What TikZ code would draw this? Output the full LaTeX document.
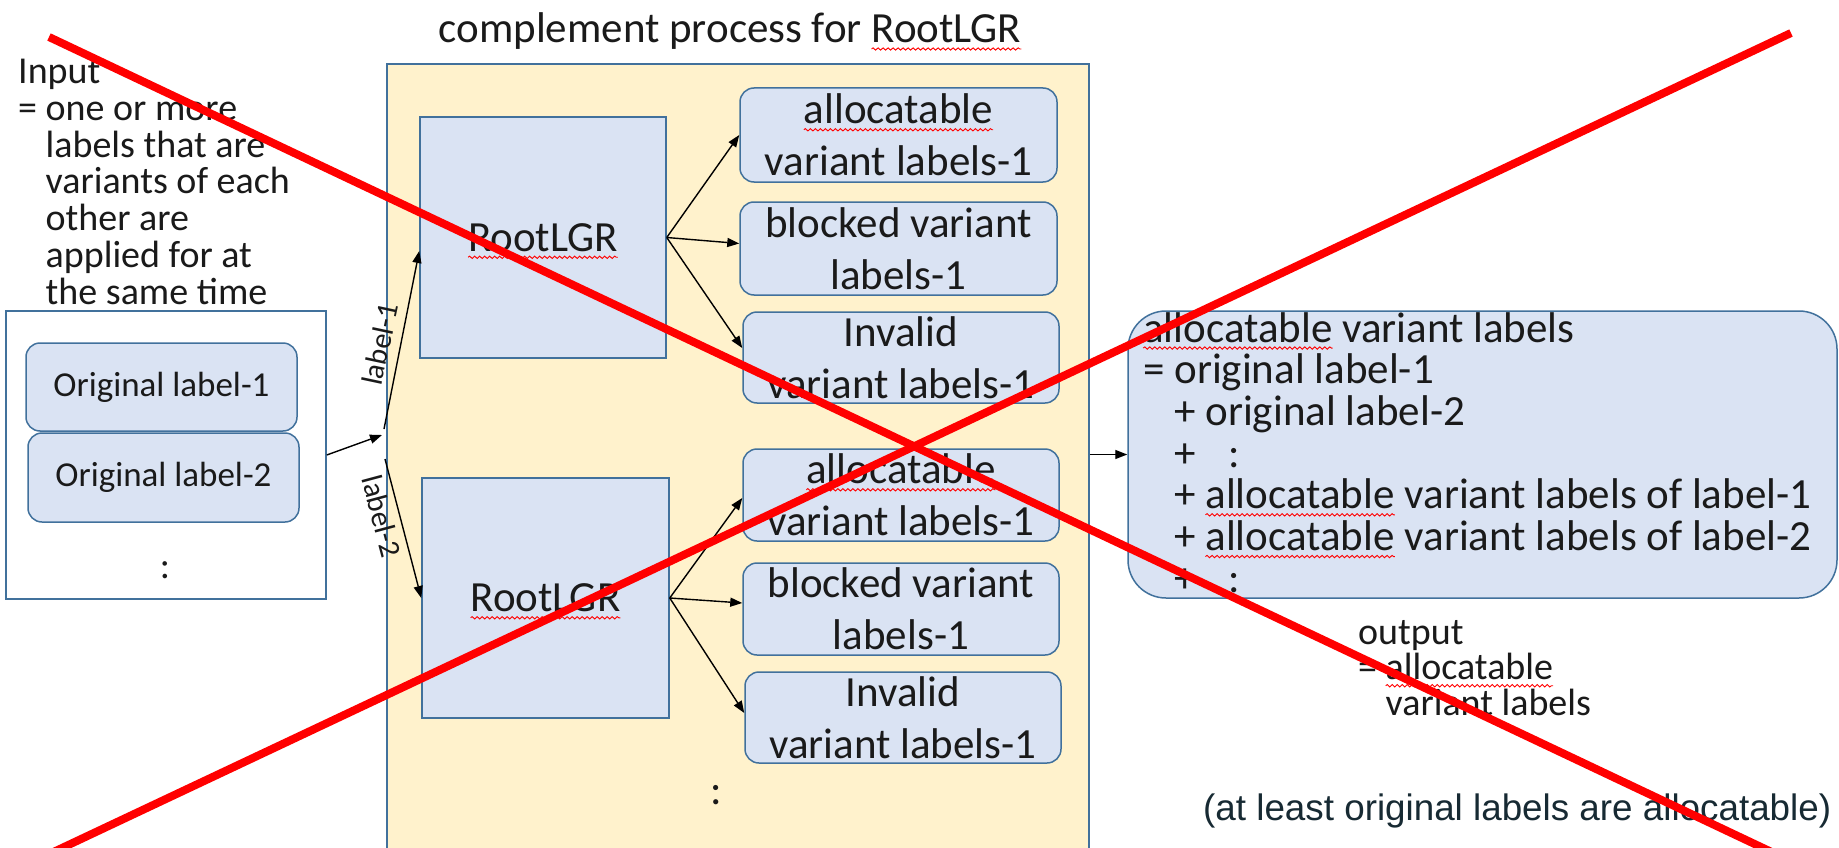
\documentclass[tikz,border=0pt]{standalone}
\usepackage{fontspec}
\setmainfont{Carlito}
\newfontfamily\arialf{Liberation Sans}
\usetikzlibrary{arrows.meta,decorations.pathmorphing,calc}
\definecolor{bord}{HTML}{41719C}
\definecolor{boxfill}{HTML}{DAE3F3}
\definecolor{yel}{HTML}{FFF2CC}
\definecolor{txt}{HTML}{1A1A1A}
\definecolor{foottxt}{HTML}{172A33}
\tikzset{
  squigline/.style={draw=red, line width=0.9pt, sharp corners, decorate,
    decoration={snake, amplitude=1.2pt, segment length=5pt}},
  sqnode/.style={inner sep=0pt, outer sep=0pt, anchor=base, draw=none, fill=none,
    minimum width=0pt, minimum height=0pt, rotate=0, sharp corners},
  lbox/.style={draw=bord, line width=1.5pt, fill=boxfill, rounded corners=14pt,
    inner sep=0pt, align=center, text=txt, font=\fontsize{43}{52}\selectfont},
  obox/.style={draw=bord, line width=1.5pt, fill=boxfill, rounded corners=14pt,
    inner sep=0pt, align=center, text=txt, font=\fontsize{35}{42}\selectfont},
  rootbox/.style={draw=bord, line width=1.5pt, fill=boxfill, inner sep=0pt,
    text=txt, font=\fontsize{43}{52}\selectfont},
  procbox/.style={draw=bord, line width=1.5pt, fill=yel, inner sep=0pt},
  inbox/.style={draw=bord, line width=1.5pt, fill=white, inner sep=0pt},
  arr/.style={-{Triangle[length=12pt,width=9pt]}, line width=1.4pt, draw=black},
  redx/.style={draw=red, line width=8pt},
  plain/.style={inner sep=0pt, text=txt},
}
\newcommand\sqw[1]{\tikz[baseline=(sqw.base)]{\node[sqnode] (sqw) {#1};%
  \draw[squigline, overlay] ([yshift=-6pt]sqw.base west) -- ([yshift=-6pt]sqw.base east);}}
\begin{document}
\begin{tikzpicture}[x=1pt,y=-1pt]
\useasboundingbox (0,0) rectangle (1839,848);
\clip (0,0) rectangle (1839,848);
\fill[white] (0,0) rectangle (1839,848);

% title and process box
\node[plain, anchor=base, font=\fontsize{43}{52}\selectfont] (title) at (730,43) {complement process for \sqw{RootLGR}};
\node[procbox, minimum width=702pt, minimum height=836pt] (proc) at (738,482) {};

% input
\node[plain, anchor=north west, align=left, font=\fontsize{38}{36.8}\selectfont] (intext) at (18,59)
  {Input\\= one or more\\\phantom{=} labels that are\\\phantom{=} variants of each\\\phantom{=} other are\\\phantom{=} applied for at\\\phantom{=} the same time};
\node[inbox, minimum width=320pt, minimum height=288pt] (inbox) at (166,455) {};
\node[obox, minimum width=271pt, minimum height=88pt] (o1) at (161.5,387) {Original label-1};
\node[obox, minimum width=271pt, minimum height=89pt] (o2) at (163.5,477.5) {Original label-2};
\node[plain, font=\fontsize{38}{40}\selectfont] (indots) at (165,570) {:};

% process contents
\node[rootbox, minimum width=246pt, minimum height=241pt] (root1) at (543,237.5) {\sqw{RootLGR}};
\node[rootbox, minimum width=247pt, minimum height=240pt] (root2) at (545.5,598) {\sqw{RootLGR}};
\node[lbox, minimum width=317pt, minimum height=94pt] (a1) at (898.5,135) {\sqw{allocatable}\\variant labels-1};
\node[lbox, minimum width=317pt, minimum height=93pt] (b1) at (898.5,248.5) {blocked variant\\labels-1};
\node[lbox, minimum width=316pt, minimum height=91pt] (i1) at (901,357.5) {Invalid\\variant labels-1};
\node[lbox, minimum width=316pt, minimum height=92pt] (a2) at (901,495) {\sqw{allocatable}\\variant labels-1};
\node[lbox, minimum width=316pt, minimum height=92pt] (b2) at (901,609) {blocked variant\\labels-1};
\node[lbox, minimum width=316pt, minimum height=91pt] (i2) at (903,717.5) {Invalid\\variant labels-1};
\node[plain, font=\fontsize{43}{48}\selectfont] (pdots) at (716,795) {:};

% output
\node[lbox, rounded corners=38pt, minimum width=709pt, minimum height=287pt] (out) at (1482.5,454.5) {};
\node[plain, anchor=north west, align=left, font=\fontsize{43}{41.7}\selectfont] (outtext) at (1143,312)
  {\sqw{allocatable} variant labels\\= original label-1\\\phantom{=} + original label-2\\\phantom{=} +\hspace{33pt}:\\\phantom{=} + \sqw{allocatable} variant labels of label-1\\\phantom{=} + \sqw{allocatable} variant labels of label-2\\\phantom{=} +\hspace{33pt}:};
\node[plain, anchor=north west, align=left, font=\fontsize{38}{35.5}\selectfont] (outlbl) at (1358,620)
  {output\\= \sqw{allocatable}\\\phantom{=} variant labels};
\node[inner sep=0pt, text=foottxt, anchor=base west, font=\arialf\fontsize{36.8}{44}\selectfont] (foot) at (1203,820)
  {(at least original labels are allocatable)};

% connectors
\coordinate (J) at (382,435);
\coordinate (J1) at (384,429);
\coordinate (J2) at (385,459);
\draw[arr] (inbox.east) -- (J);
\draw[arr] (J1) -- ([yshift=-13.5pt]root1.west);
\draw[arr] (J2) -- (root2.west);
\node[plain, rotate=78, font=\fontsize{30}{36}\selectfont] (lab1) at (380,344) {label-1};
\node[plain, rotate=-75, font=\fontsize{30}{36}\selectfont] (lab2) at (382,516) {label-2};

\draw[arr] (root1.east) -- (a1.west);
\draw[arr] (root1.east) -- ([yshift=5pt]b1.west);
\draw[arr] (root1.east) -- ([yshift=9.5pt]i1.west);
\draw[arr] (root2.east) -- ([yshift=-3pt]a2.west);
\draw[arr] (root2.east) -- ([yshift=6pt]b2.west);
\draw[arr] (root2.east) -- ([yshift=4.5pt]i2.west);
\draw[arr] (out.west -| proc.east) -- (out.west);

% red cross
\coordinate (xa1) at (49,37);
\coordinate (xa2) at (1780,856);
\coordinate (xb1) at (1791,33);
\coordinate (xb2) at (45,856);
\draw[redx] (xa1) -- (xa2);
\draw[redx] (xb1) -- (xb2);
\end{tikzpicture}
\end{document}
